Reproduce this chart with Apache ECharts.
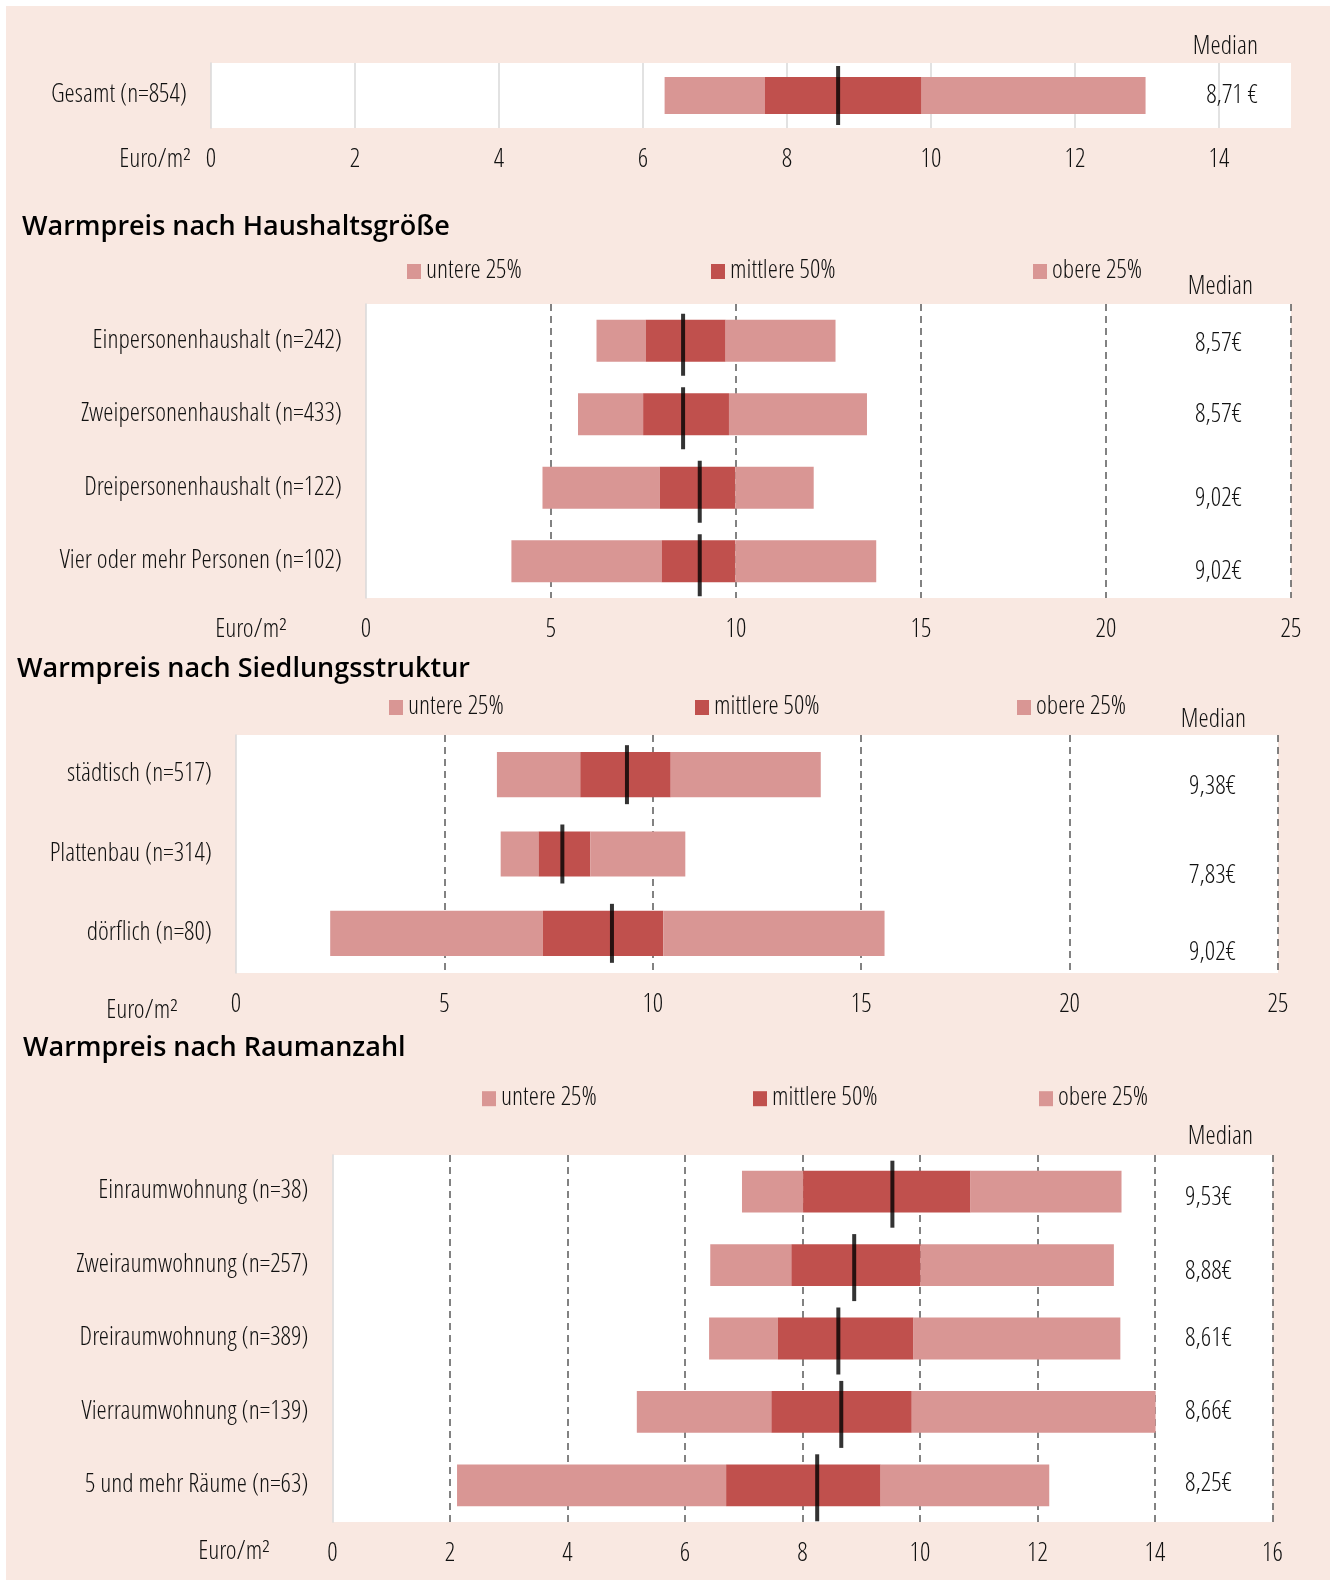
<!DOCTYPE html>
<html lang="de">
<head>
<meta charset="utf-8">
<title>Warmpreis pro Quadratmeter</title>
<script src="https://cdn.jsdelivr.net/npm/echarts@6/dist/echarts.min.js"></script>
<style>
  html, body { margin: 0; padding: 0; background: #ffffff; }
  #frame { position: absolute; left: 6px; top: 6px; width: 1324px; height: 1574px; background: #f9e8e1; }
  #chart { position: absolute; left: 0; top: 0; width: 1330px; height: 1580px; }
</style>
</head>
<body>
<div id="frame"></div>
<div id="chart"></div>
<script>
// ---- Warmpreis (Euro/m²): untere 25 %, mittlere 50 %, obere 25 % und Median ----

// Gesamt
const gesamtCats   = ['Gesamt (n=854)'];
const gesamtLow    = [6.30];
const gesamtQ1     = [7.69];
const gesamtQ3     = [9.87];
const gesamtHigh   = [12.98];
const gesamtMedian = [8.71];

// nach Haushaltsgröße
const haushaltCats   = ['Einpersonenhaushalt (n=242)', 'Zweipersonenhaushalt (n=433)', 'Dreipersonenhaushalt (n=122)', 'Vier oder mehr Personen (n=102)'];
const haushaltLow    = [6.23, 5.73, 4.77, 3.93];
const haushaltQ1     = [7.56, 7.49, 7.94, 7.99];
const haushaltQ3     = [9.72, 9.81, 9.98, 9.98];
const haushaltHigh   = [12.69, 13.54, 12.10, 13.79];
const haushaltMedian = [8.57, 8.57, 9.02, 9.02];

// nach Siedlungsstruktur
const siedlungCats   = ['städtisch (n=517)', 'Plattenbau (n=314)', 'dörflich (n=80)'];
const siedlungLow    = [6.26, 6.35, 2.26];
const siedlungQ1     = [8.26, 7.26, 7.36];
const siedlungQ3     = [10.43, 8.50, 10.25];
const siedlungHigh   = [14.03, 10.78, 15.56];
const siedlungMedian = [9.38, 7.83, 9.02];

// nach Raumanzahl
const raumCats   = ['Einraumwohnung (n=38)', 'Zweiraumwohnung (n=257)', 'Dreiraumwohnung (n=389)', 'Vierraumwohnung (n=139)', '5 und mehr Räume (n=63)'];
const raumLow    = [6.97, 6.43, 6.41, 5.18, 2.12];
const raumQ1     = [8.01, 7.81, 7.58, 7.47, 6.70];
const raumQ3     = [10.86, 10.01, 9.89, 9.86, 9.33];
const raumHigh   = [13.43, 13.30, 13.41, 14.01, 12.20];
const raumMedian = [9.53, 8.88, 8.61, 8.66, 8.25];

// Achsen (Euro/m²)
const gesamtAxis   = { max: 15, interval: 2 };
const haushaltAxis = { max: 25, interval: 5 };
const siedlungAxis = { max: 25, interval: 5 };
const raumAxis     = { max: 16, interval: 2 };

const seriesNames = ['untere 25%', 'mittlere 50%', 'obere 25%'];

// ---- Darstellung ----
const LIGHT = '#d99694';
const DARK  = '#c0504d';
const TEXT  = '#111111';
const FONT_COND  = '"Open Sans Condensed Light", "Open Sans Condensed", "Noto Sans Condensed", "Liberation Sans Narrow", "Roboto", sans-serif';
const FONT_TITLE = '"Open Sans", "Noto Sans", sans-serif';
const FW = 300;
const FS = 26;

const panels = [
  { cats: gesamtCats, low: gesamtLow, q1: gesamtQ1, q3: gesamtQ3, high: gesamtHigh, median: gesamtMedian, axis: gesamtAxis,
    euroSep: ' ', grid: { left: 211, top: 63, width: 1080, height: 65 }, solidGrid: true,
    medianLen: 59, medianShift: 0, labelMargin: 33, labelShift: [1],
    medianHead: { x: 1258, y: 47 }, unit: { x: 191, y: 160 } },
  { cats: haushaltCats, low: haushaltLow, q1: haushaltQ1, q3: haushaltQ3, high: haushaltHigh, median: haushaltMedian, axis: haushaltAxis,
    euroSep: '', grid: { left: 366, top: 304, width: 925, height: 294 }, solidGrid: false,
    medianLen: 62, medianShift: 4, labelMargin: 49, labelShift: [3, 1, 11, 11],
    medianHead: { x: 1253, y: 287 }, unit: { x: 287, y: 630 },
    title: { text: 'Warmpreis nach Haushaltsgröße', x: 22, y: 227 },
    legend: { y: 271.5, xs: [407, 711, 1033] } },
  { cats: siedlungCats, low: siedlungLow, q1: siedlungQ1, q3: siedlungQ3, high: siedlungHigh, median: siedlungMedian, axis: siedlungAxis,
    euroSep: '', grid: { left: 236, top: 735, width: 1042, height: 238 }, solidGrid: false,
    medianLen: 59, medianShift: 0, labelMargin: 42, labelShift: [13, 22, 20],
    medianHead: { x: 1246, y: 720 }, unit: { x: 178, y: 1011 },
    title: { text: 'Warmpreis nach Siedlungsstruktur', x: 17, y: 669 },
    legend: { y: 707.5, xs: [389, 695, 1017] } },
  { cats: raumCats, low: raumLow, q1: raumQ1, q3: raumQ3, high: raumHigh, median: raumMedian, axis: raumAxis,
    euroSep: '', grid: { left: 332.5, top: 1155, width: 940, height: 367 }, solidGrid: false,
    medianLen: 67, medianShift: 2.5, labelMargin: 40.5, labelShift: [7, 7, 1, 0, -1],
    medianHead: { x: 1253, y: 1137 }, unit: { x: 270, y: 1552 },
    title: { text: 'Warmpreis nach Raumanzahl', x: 23, y: 1048 },
    legend: { y: 1098.7, xs: [482, 753, 1039] } }
];

const fmtEuro = (v, sep) => v.toFixed(2).replace('.', ',') + sep + '€';

const option = {
  animation: false,
  backgroundColor: 'transparent',
  textStyle: { fontFamily: FONT_COND, fontWeight: FW },
  grid: [], xAxis: [], yAxis: [], series: [], legend: [], graphic: []
};

panels.forEach((p, gi) => {
  option.grid.push(Object.assign({ show: true, backgroundColor: '#ffffff', borderWidth: 0, outerBoundsMode: 'none', containLabel: false }, p.grid));

  option.xAxis.push({
    type: 'value', gridIndex: gi, min: 0, max: p.axis.max, interval: p.axis.interval,
    axisLine: { show: false }, axisTick: { show: false },
    axisLabel: { color: TEXT, fontSize: FS, fontWeight: FW, margin: 19, fontFamily: FONT_COND, showMaxLabel: !p.solidGrid },
    splitLine: p.solidGrid
      ? { show: true, showMinLine: false, showMaxLine: false, lineStyle: { color: '#d9d9d9', width: 1.5, type: 'solid' } }
      : { show: true, showMinLine: false, lineStyle: { color: '#5a5a5a', width: 1.5, type: [7, 5] } }
  });

  // Kategorien links
  const leftIdx = option.yAxis.length;
  option.yAxis.push({
    type: 'category', gridIndex: gi, inverse: true, data: p.cats,
    axisLine: { show: true, lineStyle: { color: '#d9d9d9', width: 1.5 } },
    axisTick: { show: false },
    axisLabel: { color: TEXT, fontSize: FS, fontWeight: FW, margin: 24, fontFamily: FONT_COND },
    splitLine: { show: false }
  });

  // Medianwerte rechts im Diagramm
  const rich = {};
  p.labelShift.forEach((s, i) => {
    rich['m' + i] = { color: TEXT, fontSize: FS, fontWeight: FW, fontFamily: FONT_COND,
      padding: s >= 0 ? [2 * s, 0, 0, 0] : [0, 0, -2 * s, 0] };
  });
  option.yAxis.push({
    type: 'category', gridIndex: gi, inverse: true, position: 'right',
    data: p.median.map(v => fmtEuro(v, p.euroSep)),
    axisLine: { show: false }, axisTick: { show: false }, splitLine: { show: false },
    axisLabel: { inside: true, margin: p.labelMargin, formatter: (val, idx) => '{m' + idx + '|' + val + '}', rich: rich }
  });

  const stack = 'stack' + gi;
  const base = { type: 'bar', xAxisIndex: gi, yAxisIndex: leftIdx, stack: stack, barCategoryGap: '43%' };
  option.series.push(Object.assign({}, base, {
    silent: true, itemStyle: { color: 'transparent' }, data: p.low
  }));
  option.series.push(Object.assign({}, base, {
    name: seriesNames[0], itemStyle: { color: LIGHT }, data: p.q1.map((v, i) => +(v - p.low[i]).toFixed(2))
  }));
  option.series.push(Object.assign({}, base, {
    name: seriesNames[1], itemStyle: { color: DARK }, data: p.q3.map((v, i) => +(v - p.q1[i]).toFixed(2))
  }));
  option.series.push(Object.assign({}, base, {
    name: seriesNames[2], itemStyle: { color: LIGHT }, data: p.high.map((v, i) => +(v - p.q3[i]).toFixed(2))
  }));
  // Median als senkrechter Strich
  option.series.push({
    type: 'scatter', xAxisIndex: gi, yAxisIndex: leftIdx, z: 5, silent: true,
    symbol: 'rect', symbolSize: [4, p.medianLen], symbolOffset: [0, p.medianShift],
    itemStyle: { color: '#000000' },
    data: p.median.map((v, i) => [v, i])
  });

  if (p.legend) {
    seriesNames.forEach((name, k) => {
      option.legend.push({
        data: [name], left: p.legend.xs[k], top: p.legend.y - 14, padding: 0,
        itemWidth: 14, itemHeight: 15, icon: 'rect', selectedMode: false,
        textStyle: { color: TEXT, fontSize: FS, fontWeight: FW, lineHeight: 28, fontFamily: FONT_COND }
      });
    });
  }

  if (p.title) {
    option.graphic.push({
      type: 'text', x: p.title.x, y: p.title.y,
      style: { text: p.title.text, fill: '#000000', font: '600 27px ' + FONT_TITLE, verticalAlign: 'middle' }
    });
  }
  option.graphic.push({
    type: 'text', x: p.medianHead.x, y: p.medianHead.y,
    style: { text: 'Median', fill: TEXT, font: FW + ' ' + FS + 'px ' + FONT_COND, align: 'right', verticalAlign: 'middle' }
  });
  option.graphic.push({
    type: 'text', x: p.unit.x, y: p.unit.y,
    style: { text: 'Euro/m²', fill: TEXT, font: FW + ' ' + FS + 'px ' + FONT_COND, align: 'right', verticalAlign: 'middle' }
  });
});

const chart = echarts.init(document.getElementById('chart'), null, { renderer: 'canvas' });
chart.setOption(option);
</script>
</body>
</html>
